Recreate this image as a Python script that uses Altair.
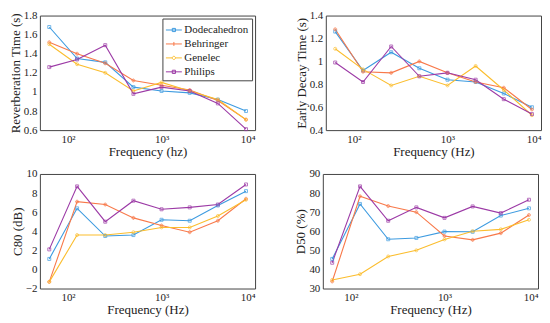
import altair as alt
import pandas as pd

freqs = [63, 125, 250, 500, 1000, 2000, 4000, 8000]
series = ["Dodecahedron", "Behringer", "Genelec", "Philips"]
colors = ["#3d9be0", "#f8794a", "#fbbd2d", "#9c3aa6"]
markers = ["square", "cross", "circle", "square"]
legend_symbols = [
    "M-1,0H1M-0.2,-0.2H0.2V0.2H-0.2Z",
    "M-1,0H1M0,-0.25V0.25",
    "M-1,0H-0.2A0.2,0.2 0 1,1 0.2,0H1M0.2,0A0.2,0.2 0 1,1 -0.2,0",
    "M-1,0H1M-0.2,-0.2H0.2V0.2H-0.2Z",
]

rt = {
    "Dodecahedron": [1.68, 1.35, 1.31, 1.05, 1.01, 0.99, 0.92, 0.80],
    "Behringer":    [1.52, 1.40, 1.30, 1.12, 1.07, 1.02, 0.91, 0.71],
    "Genelec":      [1.50, 1.29, 1.20, 1.01, 1.10, 1.01, 0.92, 0.71],
    "Philips":      [1.26, 1.34, 1.49, 0.98, 1.05, 1.01, 0.88, 0.61],
}
edt = {
    "Dodecahedron": [1.26, 0.92, 1.08, 0.94, 0.84, 0.82, 0.72, 0.60],
    "Behringer":    [1.28, 0.91, 0.90, 1.00, 0.90, 0.82, 0.77, 0.58],
    "Genelec":      [1.11, 0.93, 0.79, 0.87, 0.79, 0.96, 0.75, 0.53],
    "Philips":      [0.99, 0.82, 1.13, 0.87, 0.90, 0.84, 0.67, 0.54],
}
c80 = {
    "Dodecahedron": [1.1, 6.4, 3.5, 3.6, 5.2, 5.1, 6.7, 8.2],
    "Behringer":    [-1.3, 7.1, 6.8, 5.4, 4.6, 3.9, 5.1, 7.4],
    "Genelec":      [-1.3, 3.6, 3.6, 3.9, 4.4, 4.4, 5.6, 7.3],
    "Philips":      [2.1, 8.7, 5.0, 7.2, 6.3, 6.5, 6.8, 8.9],
}
d50 = {
    "Dodecahedron": [45.5, 74.3, 55.8, 56.5, 59.8, 59.7, 68.2, 72.0],
    "Behringer":    [33.7, 78.3, 73.2, 70.0, 57.5, 55.5, 59.0, 68.5],
    "Genelec":      [34.5, 37.5, 46.8, 50.0, 55.7, 60.0, 61.0, 66.0],
    "Philips":      [43.5, 83.5, 65.5, 72.5, 67.0, 73.0, 69.5, 76.5],
}

FONT = "Liberation Serif"
W, H = 216, 115


def to_df(d):
    rows = []
    for s in series:
        for f, v in zip(freqs, d[s]):
            rows.append({"freq": f, "value": v, "series": s})
    return pd.DataFrame(rows)


def panel(d, ytitle, xtitle, ydomain, ystep, legend=False):
    df = to_df(d)
    yvals = []
    v = ydomain[0]
    while v <= ydomain[1] + 1e-9:
        yvals.append(round(v, 4))
        v += ystep
    x = alt.X("freq:Q",
              scale=alt.Scale(type="log", domain=[50, 10000], nice=False),
              axis=alt.Axis(values=[100, 1000, 10000], title=xtitle,
                            labelExpr="datum.value == 100 ? '10²' : datum.value == 1000 ? '10³' : '10⁴'"))
    y = alt.Y("value:Q", scale=alt.Scale(domain=ydomain, nice=False, zero=False),
              axis=alt.Axis(values=yvals, title=ytitle, format=".2~f"))
    cscale = alt.Scale(domain=series, range=colors)
    if legend:
        leg = alt.Legend(title=None, orient="top-right", offset=3,
                         strokeColor="#444", fillColor="white", padding=3,
                         labelFont=FONT, labelFontSize=11, labelColor="#222",
                         symbolSize=256, symbolOpacity=1, symbolStrokeWidth=1,
                         symbolFillColor="transparent",
                         rowPadding=-1, labelOffset=2, cornerRadius=0)
        color = alt.Color("series:N", scale=cscale, legend=leg)
    else:
        leg = None
        color = alt.Color("series:N", scale=cscale, legend=None)
    base = alt.Chart(df)
    layers = [base.mark_line(strokeWidth=1.1).encode(x=x, y=y, color=color, detail="series:N")]
    for s, m in zip(series, markers):
        layers.append(
            base.transform_filter(alt.datum.series == s)
            .mark_point(size=9, filled=False, strokeWidth=1, shape=m)
            .encode(x=x, y=y, color=color)
        )
    if legend:
        lshape = alt.Shape("series:N", scale=alt.Scale(domain=series, range=legend_symbols),
                           legend=leg)
        layers.append(base.mark_point(opacity=0, filled=False).encode(
            x=x, y=y, color=color, shape=lshape))
    return alt.layer(*layers).properties(width=W, height=H)


p1 = panel(rt, "Reverberation Time (s)", "Frequency (hz)", [0.6, 1.8], 0.2, legend=True)
p2 = panel(edt, "Early Decay Time (s)", "Frequency (Hz)", [0.4, 1.4], 0.2)
p3 = panel(c80, "C80 (dB)", "Frequency (Hz)", [-2, 10], 2)
p4 = panel(d50, "D50 (%)", "Frequency (Hz)", [30, 90], 10)

chart = alt.vconcat(
    alt.hconcat(p1, p2, spacing=38).resolve_scale(color="independent", shape="independent"),
    alt.hconcat(p3, p4, spacing=38).resolve_scale(color="independent", shape="independent"),
    spacing=8,
).resolve_scale(color="independent", shape="independent").properties(padding=0).configure_view(
    stroke="#444", strokeWidth=1
).configure_axis(
    grid=False, domain=False, ticks=False,
    labelFont=FONT, labelFontSize=11, labelColor="#222",
    titleFont=FONT, titleFontSize=13, titleFontWeight=400, titleColor="#222",
    labelPadding=3, titlePadding=1,
)

chart.save("out.html", embed_options={"renderer": "svg", "actions": False})
